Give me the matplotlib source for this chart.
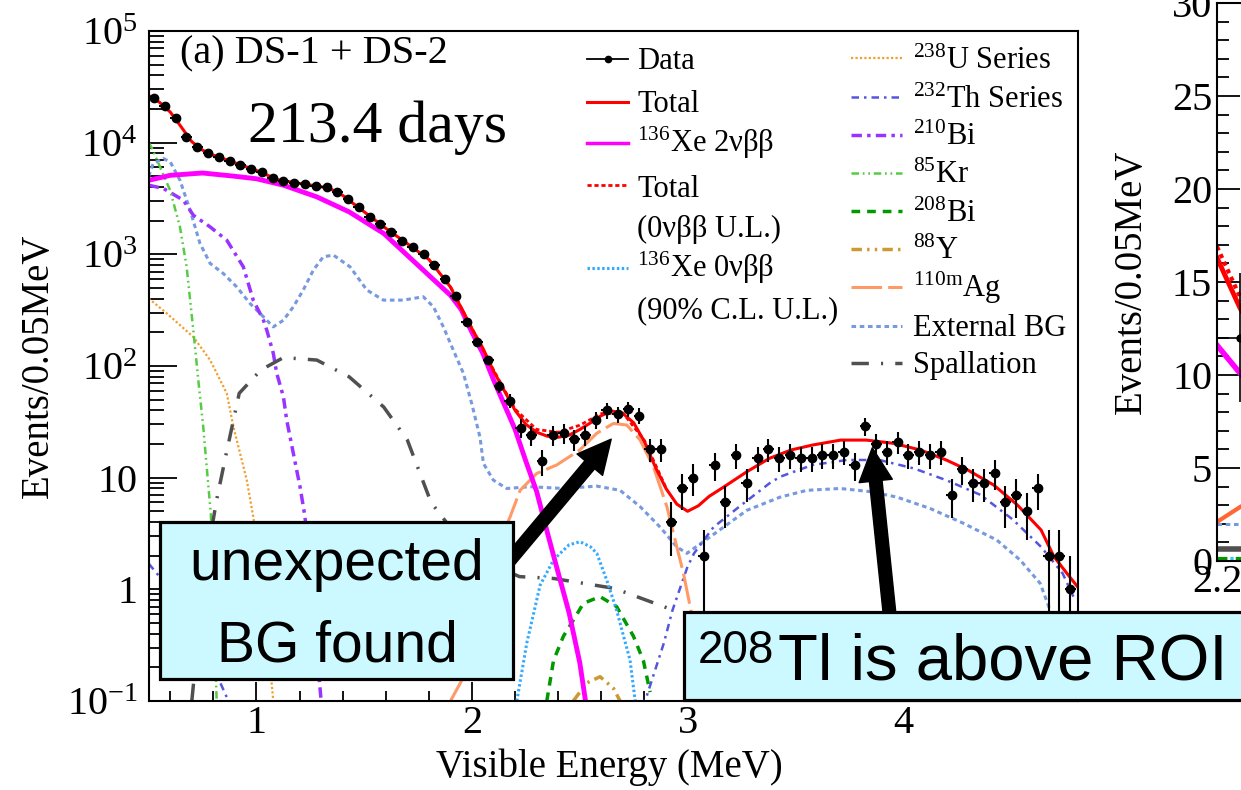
import numpy as np
import matplotlib.pyplot as plt
from matplotlib.lines import Line2D
from matplotlib.patches import Rectangle, FancyArrowPatch
from matplotlib.ticker import FixedLocator, MultipleLocator, LogLocator, NullFormatter

plt.rcParams['font.family'] = 'Liberation Serif'
plt.rcParams['mathtext.fontset'] = 'custom'
plt.rcParams['mathtext.rm'] = 'Liberation Serif'
plt.rcParams['mathtext.it'] = 'Liberation Serif:italic'

W, H = 1241, 790

# ---- data (events per 0.05 MeV bin) ----
e_data = np.round(np.arange(0.525, 4.8, 0.05), 3)
n_data = np.array([
    24900, 21200, 16500, 11300, 9170, 8000, 7470, 6870, 6320, 5870,
    5410, 4810, 4500, 4370, 4250, 4100, 3970, 3580, 3160, 2630,
    2170, 1860, 1570, 1320, 1170, 1000, 805, 600, 425, 250,
    164, 113, 66, 49, 28, 24, 14, 24, 25, 22,
    24, 33, 40, 37, 41, 36, 18, 18, 4, 8,
    10, 2, 13, 6, 16, 9, 15, 18, 15, 16,
    15, 15, 16, 16, 17, 13, 29, 20, 17, 21,
    16, 17, 16, 17, 7, 12, 9, 9, 11, 6,
    7, 5, 8, 2, 2, 1])

# ---- fit components ----
e_total = [0.50, 0.55, 0.60, 0.65, 0.70, 0.75, 0.80, 0.90, 1.00, 1.10, 1.20, 1.30, 1.35,
           1.40, 1.50, 1.60, 1.70, 1.80, 1.90, 2.00, 2.05, 2.10, 2.15, 2.20, 2.25, 2.30,
           2.35, 2.40, 2.45, 2.50, 2.55, 2.60, 2.65, 2.70, 2.75, 2.80, 2.85, 2.90, 2.95,
           3.00, 3.05, 3.10, 3.17, 3.275, 3.38, 3.48, 3.58, 3.71, 3.83, 3.955, 4.08,
           4.20, 4.30, 4.42, 4.53, 4.64, 4.70, 4.76, 4.81]
v_total = [26500, 23000, 18800, 13900, 10200, 8560, 7730, 6600, 5640, 4650, 4310, 4035, 3800,
           3370, 2400, 1710, 1245, 900, 510, 215, 145, 90, 60, 40, 30, 25.5,
           23.5, 23, 24, 27, 31, 36, 39.5, 37.5, 31, 21, 12.5, 8, 5.8,
           5.0, 5.6, 6.8, 8.3, 11.3, 14.9, 17.7, 19.6, 21.7, 21.7, 20.3, 17.7,
           14.4, 11.7, 8.6, 5.7, 3.4, 1.96, 1.39, 1.05]

e_total_ul = [1.90, 2.00, 2.10, 2.20, 2.30, 2.40, 2.50, 2.60, 2.70, 2.80, 2.90]
v_total_ul = [512, 217, 92, 41, 27, 25.5, 29.5, 37.5, 38, 21.5, 8.1]

e_xe2v = [0.50, 0.60, 0.75, 0.90, 1.00, 1.125, 1.28, 1.43, 1.59, 1.74, 1.90, 1.95, 2.00,
          2.05, 2.10, 2.15, 2.20, 2.25, 2.30, 2.35, 2.40, 2.45, 2.50, 2.53]
v_xe2v = [4600, 5100, 5350, 5000, 4750, 4160, 3270, 2400, 1540, 830, 430, 320, 200,
          130, 75, 45, 27, 14, 7.5, 3.2, 1.4, 0.62, 0.22, 0.09]

e_xe0v = [2.208, 2.254, 2.316, 2.378, 2.409, 2.45, 2.501, 2.55, 2.579, 2.625, 2.671, 2.70,
          2.733, 2.757]
v_xe0v = [0.1, 0.33, 1.09, 1.83, 2.1, 2.5, 2.67, 2.4, 2.1, 1.21, 0.65, 0.4, 0.233, 0.1]

e_u238 = [0.50, 0.584, 0.707, 0.785, 0.862, 0.893, 0.955, 0.985, 1.03, 1.078]
v_u238 = [403, 296, 182, 113, 57, 28.6, 9.5, 4.47, 1.0, 0.1]

e_th232 = [0.50, 0.55, 0.60, 0.70, 0.80, 0.87, np.nan,
           2.78, 2.81, 2.84, 2.89, 2.93, 3.00, 3.03, 3.12, 3.24, 3.38, 3.43, 3.58, 3.74,
           3.89, 4.05, 4.20, 4.36, 4.51, 4.64, 4.74, 4.79]
v_th232 = [1.7, 1.3, 0.9, 0.45, 0.2, 0.1, np.nan,
           0.09, 0.11, 0.166, 0.33, 0.65, 1.6, 2.1, 3.6, 5.5, 8.9, 10.2, 13, 14.4,
           14.4, 12.1, 9.5, 7.0, 4.2, 2.4, 1.39, 0.86]

e_bi210 = [0.50, 0.568, 0.661, 0.707, 0.785, 0.862, 0.939, 0.985, 1.032, 1.048, 1.078,
           1.094, 1.125, 1.14, 1.171, 1.202, 1.225, 1.26, 1.30]
v_bi210 = [4160, 3890, 3050, 2240, 1760, 1340, 773, 389, 258, 209, 130,
           86, 53, 33, 16.5, 8.3, 4.47, 0.8, 0.1]

e_kr85 = [0.50, 0.514, 0.552, 0.599, 0.645, 0.676, 0.707, 0.73, 0.753, 0.769, 0.788, 0.80, 0.815]
v_kr85 = [10000, 9000, 6100, 3760, 1760, 773, 209, 75, 28.6, 12.5, 4.8, 1.5, 0.1]

e_bi208 = [2.347, 2.378, 2.424, 2.47, 2.517, 2.594, 2.671, 2.749, 2.795, 2.826]
v_bi208 = [0.1, 0.23, 0.38, 0.53, 0.75, 0.86, 0.7, 0.38, 0.23, 0.12]

e_y88 = [2.47, 2.532, 2.594, 2.656, 2.687]
v_y88 = [0.1, 0.145, 0.165, 0.13, 0.1]

e_ag110m = [1.90, 1.95, 2.05, 2.12, 2.177, 2.223, 2.30, 2.393, 2.50, 2.579, 2.656, 2.718,
            2.78, 2.842, 2.904, 2.95, 2.981, 3.012, 3.05, 3.08]
v_ag110m = [0.1, 0.15, 0.8, 2.5, 4.47, 7.7, 10.9, 13, 17.7, 25, 30.6, 29.6,
            21.7, 12.5, 5.5, 2.4, 1.39, 0.7, 0.3, 0.1]

e_ext = [0.50, 0.521, 0.568, 0.60, 0.645, 0.692, 0.738, 0.785, 0.846, 0.908, 0.97, 1.032,
         1.078, 1.125, 1.171, 1.217, 1.264, 1.31, 1.357, 1.434, 1.512, 1.589, 1.681, 1.774,
         1.821, 1.867, 1.913, 1.96, 2.00, 2.037, 2.053, 2.099, 2.161, 2.269, 2.424, 2.579,
         2.687, 2.78, 2.873, 2.95, 2.997, 3.12, 3.275, 3.43, 3.553, 3.708, 3.847, 3.971,
         4.125, 4.28, 4.435, 4.543, 4.636, 4.682]
v_ext = [5000, 6520, 7210, 6730, 4610, 2490, 1250, 829, 674, 512, 363, 276,
         224, 257, 339, 479, 723, 951, 984, 773, 479, 389, 389, 417,
         339, 224, 139, 86, 45, 23, 13.4, 9.5, 8.0, 8.3, 8.0, 8.4,
         7.7, 5.5, 3.6, 2.4, 2.1, 3.1, 5.1, 6.7, 7.7, 8.0, 7.5, 6.7,
         5.3, 3.9, 2.76, 1.83, 1.13, 0.65]

e_spall = [0.70, 0.76, 0.815, 0.86, 0.92, 1.02, 1.125, 1.28, 1.43, 1.59, 1.70, 1.81,
           2.00, 2.22, 2.38, 2.66, 2.89, 2.95]
v_spall = [0.1, 1.5, 6.3, 16.5, 57, 92, 119, 113, 80, 43, 21.7, 6.0,
           2.0, 1.3, 1.25, 1.02, 0.70, 0.63]

# ---- zoomed panel (b), only its left edge is in view ----
r_e = [2.20, 2.225, 2.25]
r_total = [16.3, 13.6, 11.5]
r_total_ul = [16.9, 14.2, 12.0]
r_xe2v = [11.6, 10.1, 8.7]
r_ag110m = [2.1, 2.9, 3.6]
r_ext = [2.0, 2.0, 2.0]
r_spall = [0.65, 0.65, 0.65]
r_small = [0.1, 0.1, 0.1]
r_data_e = [2.225]
r_data_n = np.array([12])

y_ticks = [0.1, 1, 10, 100, 1000, 1e4, 1e5]
y_ticklabels = [r'$10^{-1}$', '1', '10', r'$10^{2}$', r'$10^{3}$', r'$10^{4}$', r'$10^{5}$']

styles = {
    'total':  dict(color='#ff0000', lw=2.2, ls='-'),
    'xe2v':   dict(color='#ff00ff', lw=3.5, ls='-'),
    'tot_ul': dict(color='#ff0000', lw=2.0, ls=(0, (1.5, 1.0))),
    'xe0v':   dict(color='#33aaff', lw=2.2, ls=(0, (0.8, 0.8))),
    'u238':   dict(color='#f0a030', lw=1.6, ls=(0, (1, 1))),
    'th232':  dict(color='#5555dd', lw=1.8, ls=(0, (3, 2, 1, 2))),
    'bi210':  dict(color='#9933ff', lw=2.5, ls=(0, (3, 1.5, 1, 1.5))),
    'kr85':   dict(color='#55cc44', lw=1.8, ls=(0, (3, 1.5, 0.7, 1.5, 0.7, 1.5))),
    'bi208':  dict(color='#009900', lw=2.5, ls=(0, (2.5, 2))),
    'y88':    dict(color='#cc9933', lw=2.5, ls=(0, (3, 1.5, 0.7, 1.5, 0.7, 1.5))),
    'ag110m': dict(color='#ff9966', lw=2.2, ls=(0, (10, 2))),
    'ext':    dict(color='#7799dd', lw=2.2, ls=(0, (1.5, 1.2))),
    'spall':  dict(color='#505050', lw=2.5, ls=(0, (5, 3.5, 0.6, 3.5))),
}

fig = plt.figure(figsize=(W / 100, H / 100), dpi=100)


def fx(px):
    return px / W


def fy(py):
    return 1 - py / H


# ---------------- main panel ----------------
ax = fig.add_axes([fx(148.7), fy(701), (1077.7 - 148.7) / W, (701 - 31) / H])
ax.set_yscale('log')

ax.plot(e_ext, v_ext, **styles['ext'])
ax.plot(e_u238, v_u238, **styles['u238'])
ax.plot(e_th232, v_th232, **styles['th232'])
ax.plot(e_bi210, v_bi210, **styles['bi210'])
ax.plot(e_kr85, v_kr85, **styles['kr85'])
ax.plot(e_bi208, v_bi208, **styles['bi208'])
ax.plot(e_y88, v_y88, **styles['y88'])
ax.plot(e_ag110m, v_ag110m, **styles['ag110m'])
ax.plot(e_spall, v_spall, **styles['spall'])
ax.plot(e_xe0v, v_xe0v, **styles['xe0v'])
ax.plot(e_xe2v, v_xe2v, **styles['xe2v'])
ax.plot(e_total_ul, v_total_ul, **styles['tot_ul'])
ax.plot(e_total, v_total, **styles['total'])

err = np.sqrt(n_data)
ax.errorbar(e_data, n_data, yerr=err, xerr=0.025, fmt='o', color='black',
            ms=6, elinewidth=1.5, capsize=0, zorder=5)

ax.set_xlim(0.5, 4.81)
ax.set_ylim(0.1, 1e5)
ax.yaxis.set_major_locator(FixedLocator(y_ticks))
ax.set_yticklabels(y_ticklabels)
ax.yaxis.set_minor_locator(LogLocator(base=10, subs=np.arange(2, 10), numticks=20))
ax.yaxis.set_minor_formatter(NullFormatter())
ax.set_xticks([1, 2, 3, 4])
ax.set_xticklabels(['1', '2', '3', '4'])
ax.xaxis.set_minor_locator(MultipleLocator(0.2))

ax.tick_params(axis='y', which='major', direction='in', length=20, width=1.3,
               labelsize=29, pad=8)
ax.tick_params(axis='y', which='minor', direction='in', length=11, width=1.3)
ax.tick_params(axis='x', which='major', direction='in', length=14, width=1.3,
               labelsize=29, pad=3)
ax.tick_params(axis='x', which='minor', direction='in', length=7, width=1.3)
for s in ax.spines.values():
    s.set_linewidth(1.5)

ax.set_xlabel('Visible Energy (MeV)', fontsize=28)
ax.set_ylabel('Events/0.05MeV', fontsize=28)
ax.xaxis.set_label_coords(0.496, -0.071)
ax.yaxis.set_label_coords(-0.099, 0.5)

ax.text(0.0337, 0.952, '(a) DS-1 + DS-2', transform=ax.transAxes, fontsize=29,
        va='baseline', ha='left')
ax.text(0.107, 0.834, '213.4 days', transform=ax.transAxes, fontsize=43,
        va='baseline', ha='left')

# ---------------- legend (ROOT style, hand placed) ----------------
legend_rows = [
    # key, label, line x0, line x1, text x, line y, text baseline
    ('data', 'Data', 587, 628, 637, 59, 69),
    ('total', 'Total', 587, 628, 637, 102, 112),
    ('xe2v', r'$^{136}$Xe 2νββ', 587, 628, 637, 143, 152),
    ('tot_ul', 'Total', 587, 628, 637, 185, 197),
    (None, '(0νββ U.L.)', 587, 628, 637, None, 237),
    ('xe0v', r'$^{136}$Xe 0νββ', 587, 628, 637, 268, 277),
    (None, '(90% C.L. U.L.)', 587, 628, 637, None, 318),
    ('u238', r'$^{238}$U Series', 851, 902, 913, 58, 69),
    ('th232', r'$^{232}$Th Series', 851, 902, 913, 97, 108),
    ('bi210', r'$^{210}$Bi', 851, 902, 913, 135, 145),
    ('kr85', r'$^{85}$Kr', 851, 902, 913, 173, 183),
    ('bi208', r'$^{208}$Bi', 851, 902, 913, 211, 222),
    ('y88', r'$^{88}$Y', 851, 902, 913, 249, 259),
    ('ag110m', r'$^{110\mathrm{m}}$Ag', 851, 902, 913, 287, 297),
    ('ext', 'External BG', 851, 902, 913, 326, 336),
    ('spall', 'Spallation', 851, 902, 913, 363, 373),
]
for key, label, x0, x1, xt, yl, yb in legend_rows:
    if key == 'data':
        fig.add_artist(Line2D([fx(x0), fx(x1)], [fy(yl), fy(yl)], color='black', lw=1.3,
                              transform=fig.transFigure))
        fig.add_artist(Line2D([fx((x0 + x1) / 2)], [fy(yl)], color='black', marker='o',
                              ms=4.5, transform=fig.transFigure))
    elif key is not None:
        st = dict(styles[key])
        fig.add_artist(Line2D([fx(x0), fx(x1)], [fy(yl), fy(yl)], color=st['color'],
                              lw=min(st['lw'], 2.5), ls=st['ls'],
                              transform=fig.transFigure))
    fig.text(fx(xt), fy(yb), label, fontsize=22, va='baseline', ha='left')

# ---------------- panel (b), cut by the image edge ----------------
ax2 = fig.add_axes([fx(1217), fy(561), 736 / W, (561 - 3) / H])
ax2.plot(r_e, r_ext, **styles['ext'])
ax2.plot(r_e, r_small, color='#33ccee', lw=3, ls=(0, (0.8, 0.8)))
ax2.plot(r_e, r_small, color='#009900', lw=3, ls=(0, (2.5, 2)))
ax2.plot(r_e, r_spall, color='#505050', lw=4)
ax2.plot(r_e, r_ag110m, color='#ff6633', lw=3)
ax2.plot(r_e, r_xe2v, color='#ff00ff', lw=4)
ax2.plot(r_e, r_total_ul, color='#ff0000', lw=3, ls=(0, (1, 1)))
ax2.plot(r_e, r_total, color='#ff0000', lw=3.5)
ax2.errorbar(r_data_e, r_data_n, yerr=np.sqrt(r_data_n), xerr=0.025, fmt='o',
             color='black', ms=5, elinewidth=1.2, capsize=0)
ax2.set_xlim(2.2, 3.0)
ax2.set_ylim(0, 30)
ax2.yaxis.set_major_locator(MultipleLocator(5))
ax2.yaxis.set_minor_locator(MultipleLocator(1))
ax2.set_xticks([2.2])
ax2.set_xticklabels(['2.2'])
ax2.tick_params(axis='y', which='major', direction='in', length=16.5, width=1.3,
                labelsize=29, pad=3.5)
ax2.tick_params(axis='y', which='minor', direction='in', length=8.6, width=1.3)
ax2.tick_params(axis='x', which='major', direction='in', length=14, width=1.3,
                labelsize=29, pad=2)
for s in ax2.spines.values():
    s.set_linewidth(1.5)
ax2.set_ylabel('Events/0.05MeV', fontsize=28)
ax2.yaxis.set_label_coords(-0.091, 0.5)

# ---------------- call-out boxes and arrows ----------------
box_face = '#ccf9ff'
fig.add_artist(FancyArrowPatch((fx(505), fy(566)), (fx(613), fy(437)),
                               transform=fig.transFigure,
                               arrowstyle='simple,head_length=1.0,head_width=1.0,tail_width=0.38',
                               mutation_scale=24, color='black', zorder=4))
fig.add_artist(FancyArrowPatch((fx(890), fy(618)), (fx(872), fy(445)),
                               transform=fig.transFigure,
                               arrowstyle='simple,head_length=1.0,head_width=1.0,tail_width=0.38',
                               mutation_scale=24, color='black', zorder=4))

fig.add_artist(Rectangle((fx(160), fy(679)), (513 - 160) / W, (679 - 522) / H,
                         transform=fig.transFigure, facecolor=box_face,
                         edgecolor='black', lw=2.3, zorder=5))
fig.text(fx(336.5), fy(580), 'unexpected', fontsize=41, family='Liberation Sans',
         ha='center', va='baseline', zorder=6)
fig.text(fx(337.5), fy(661), 'BG found', fontsize=41, family='Liberation Sans',
         ha='center', va='baseline', zorder=6)

fig.add_artist(Rectangle((fx(684), fy(700)), (1270 - 684) / W, (700 - 612) / H,
                         transform=fig.transFigure, facecolor=box_face,
                         edgecolor='black', lw=2.3, zorder=5))
fig.text(fx(698), fy(663), '208', fontsize=33, family='Liberation Sans',
         ha='left', va='baseline', zorder=6)
fig.text(fx(778), fy(680), 'Tl is above ROI', fontsize=47, family='Liberation Sans',
         ha='left', va='baseline', zorder=6)

fig.savefig('out.png', dpi=100)
